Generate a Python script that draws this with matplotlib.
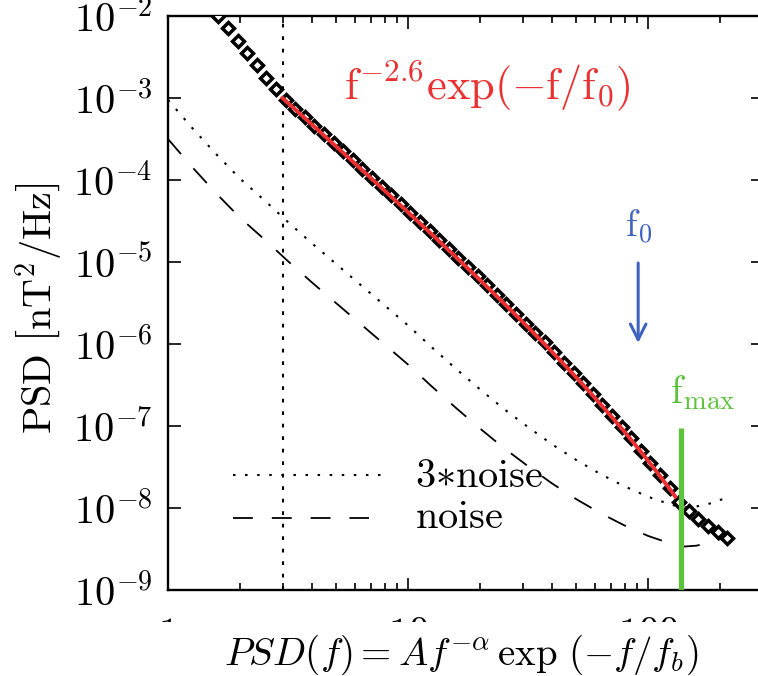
import numpy as np
import matplotlib
matplotlib.use("Agg")
import matplotlib.pyplot as plt
from matplotlib.patches import Rectangle
from matplotlib.ticker import LogLocator, FuncFormatter, NullFormatter

plt.rcParams['mathtext.fontset'] = 'cm'
plt.rcParams['font.family'] = 'serif'
plt.rcParams['font.serif'] = ['DejaVu Serif']

#%% spectrum (log10 f [Hz], log10 PSD [nT^2/Hz])
log_f = [0.21, 0.25, 0.29, 0.33, 0.37, 0.41, 0.45, 0.49, 0.53, 0.57,
         0.61, 0.65, 0.69, 0.73, 0.77, 0.81, 0.85, 0.89, 0.93, 0.97,
         1.01, 1.05, 1.09, 1.13, 1.17, 1.21, 1.25, 1.29, 1.33, 1.37,
         1.41, 1.45, 1.49, 1.53, 1.57, 1.61, 1.65, 1.69, 1.73, 1.77,
         1.81, 1.85, 1.89, 1.93, 1.97, 2.01, 2.05, 2.09, 2.13, 2.17,
         2.21, 2.25, 2.29, 2.33]
log_psd = [-2.00, -2.15, -2.30, -2.45, -2.60, -2.75, -2.89, -3.02, -3.13, -3.23,
           -3.34, -3.44, -3.55, -3.65, -3.76, -3.86, -3.97, -4.08, -4.18, -4.29,
           -4.40, -4.51, -4.62, -4.73, -4.84, -4.95, -5.06, -5.17, -5.28, -5.40,
           -5.51, -5.63, -5.75, -5.86, -5.98, -6.10, -6.23, -6.35, -6.48, -6.61,
           -6.74, -6.88, -7.01, -7.15, -7.30, -7.45, -7.60, -7.76, -7.93, -8.04,
           -8.13, -8.22, -8.29, -8.36]

# instrument noise floor
noise_log_f = [0.00, 0.10, 0.20, 0.30, 0.40, 0.50, 0.60, 0.70, 0.80, 0.90,
               1.00, 1.10, 1.20, 1.30, 1.40, 1.50, 1.60, 1.70, 1.80, 1.90,
               2.00, 2.10, 2.15, 2.20, 2.25, 2.30, 2.34]
noise_log_psd = [-3.50, -3.84, -4.16, -4.46, -4.72, -4.99, -5.25, -5.50, -5.75, -6.00,
                 -6.25, -6.52, -6.78, -7.03, -7.27, -7.49, -7.70, -7.89, -8.06, -8.21,
                 -8.34, -8.44, -8.47, -8.46, -8.43, -8.38, -8.34]

# fit parameters
ALPHA = 2.6
F0 = 91.0
F_LOW = 3.0        # start of fit range
F_FIT_END = 130.0
PSD_LOW = 1e-3     # fit value at F_LOW
F_MAX = 137.0
FMAX_TOP = 9.5e-8

RED = '#ea3030'
BLUE = '#3e62c0'
GREEN = '#5cc23c'

f = 10 ** np.array(log_f)
psd = 10 ** np.array(log_psd)
fn = 10 ** np.array(noise_log_f)
noise = 10 ** np.array(noise_log_psd)

f_fit = np.concatenate([[F_LOW], f[(f > F_LOW) & (f < F_FIT_END)], [F_FIT_END]])
psd_fit = PSD_LOW * (f_fit / F_LOW) ** (-ALPHA) * np.exp(-(f_fit - F_LOW) / F0)

#%%
fig = plt.figure(figsize=(7.58, 6.76), dpi=100)
ax = fig.add_axes([168 / 758, 86 / 676, 594.5 / 758, 574 / 676])
ax.set_xscale('log')
ax.set_yscale('log')
ax.set_xlim(1, 300)
ax.set_ylim(1e-9, 1e-2)

dot = (0, (1.2, 4.6))
dash = (0, (11, 10.5))
ax.plot(fn, 3 * noise, color='black', lw=1.5, ls=dot)
ax.plot(fn, noise, color='black', lw=1.3, ls=dash)
ax.axvline(F_LOW, color='black', lw=1.5, ls=(0, (1.8, 4.2)))

ax.plot(f, psd, ls='none', marker='D', ms=6, mfc='white', mec='black', mew=2.5, zorder=3)
ax.plot(f_fit, psd_fit, color=RED, lw=2.8, zorder=4)

ax.vlines(F_MAX, 1e-9, FMAX_TOP, color=GREEN, lw=3.8, zorder=5)
ax.text(123, 1.9e-7, r'$\mathrm{f_{max}}$', color=GREEN, fontsize=28, ha='left', va='baseline')

ax.annotate('', xy=(F0, 9.5e-7), xytext=(F0, 1.05e-5),
            arrowprops=dict(arrowstyle='->', color=BLUE, lw=2.2, mutation_scale=28))
ax.text(F0, 2.0e-5, r'$\mathrm{f_0}$', color=BLUE, fontsize=27, ha='center', va='baseline')

ax.text(5.4, 9.5e-4, r'$\mathrm{f^{-2.6}exp(-f/f_0)}$', color=RED, fontsize=32,
        ha='left', va='baseline')

# legend
ax.plot([0.109, 0.373], [0.2003, 0.2003], transform=ax.transAxes, color='black', lw=1.5, ls=dot)
ax.plot([0.109, 0.338], [0.1254, 0.1254], transform=ax.transAxes, color='black', lw=1.3, ls=dash)
ax.text(0.4155, 0.1794, r'$\mathrm{3{\ast}noise}$', transform=ax.transAxes, fontsize=29, va='baseline')
ax.text(0.4155, 0.108, r'$\mathrm{noise}$', transform=ax.transAxes, fontsize=29, va='baseline')

for s in ax.spines.values():
    s.set_linewidth(1.7)
ax.xaxis.set_major_locator(LogLocator(base=10, numticks=10))
ax.xaxis.set_minor_locator(LogLocator(base=10, subs=np.arange(2, 10), numticks=20))
ax.xaxis.set_minor_formatter(NullFormatter())
ax.xaxis.set_major_formatter(FuncFormatter(lambda v, p: r'$%d$' % round(v)))
ax.yaxis.set_major_locator(LogLocator(base=10, numticks=12))
ax.yaxis.set_minor_locator(plt.NullLocator())
ax.yaxis.set_major_formatter(FuncFormatter(lambda v, p: r'$10^{%d}$' % round(np.log10(v))))
ax.tick_params(which='both', direction='in', top=True, right=True, width=1.2)
ax.tick_params(which='major', length=9, labelsize=29)
ax.tick_params(which='minor', length=5)
ax.tick_params(axis='x', pad=19)
ax.tick_params(axis='y', pad=11)

# lower strip over the x tick labels
fig.add_artist(Rectangle((0, 0), 1, 54 / 676, transform=fig.transFigure,
                         facecolor='white', edgecolor='none', zorder=2))
fig.text(461 / 758, 1 - 655 / 676, r'$PSD(f) = Af^{-\alpha}\,\exp\,(-f/f_b)$',
         fontsize=28, ha='center', va='center', zorder=3)
fig.text(38 / 758, 1 - 308 / 676, r'$\mathrm{PSD\ \left[nT^2/Hz\right]}$',
         fontsize=29, rotation=90, ha='center', va='center')

fig.savefig('out.png', dpi=100)
